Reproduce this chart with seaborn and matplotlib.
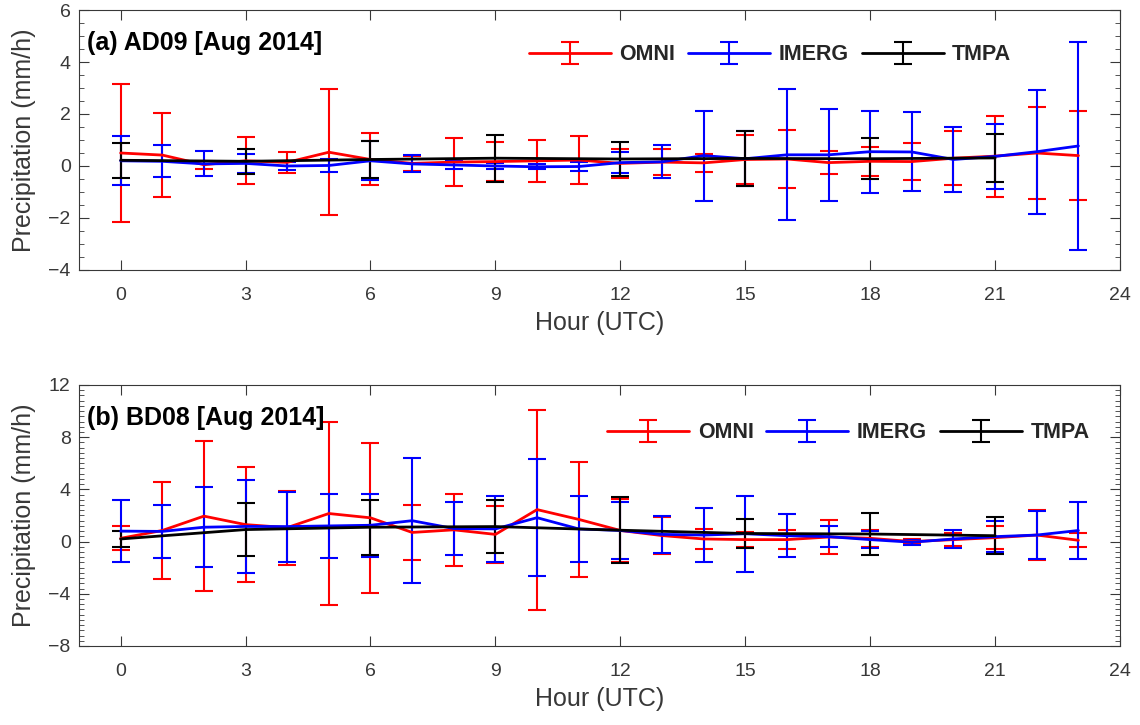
import numpy as np
import matplotlib.pyplot as plt
import seaborn as sns
from matplotlib.ticker import MultipleLocator

# Estilo
sns.set_theme(style="ticks")
plt.rcParams['font.family'] = ['Liberation Sans', 'DejaVu Sans']

# Horas
hours = np.arange(24)
hours_3h = np.arange(0, 24, 3)

# (a) AD09 - medias e desvios
omni_a = [0.5, 0.42, 0.05, 0.2, 0.14, 0.53, 0.25, 0.1, 0.15, 0.17, 0.2, 0.23,
          0.1, 0.15, 0.12, 0.25, 0.27, 0.13, 0.18, 0.17, 0.3, 0.38, 0.5, 0.4]
omni_a_err = [2.65, 1.62, 0.15, 0.9, 0.4, 2.42, 1.0, 0.3, 0.92, 0.75, 0.8, 0.94,
              0.55, 0.5, 0.35, 0.95, 1.13, 0.45, 0.55, 0.72, 1.05, 1.56, 1.78, 1.7]
imerg_a = [0.2, 0.18, 0.08, 0.1, 0.0, 0.02, 0.2, 0.08, 0.04, 0.0, -0.03, -0.02,
           0.13, 0.16, 0.4, 0.28, 0.43, 0.43, 0.55, 0.54, 0.25, 0.37, 0.55, 0.77]
imerg_a_err = [0.94, 0.62, 0.48, 0.38, 0.15, 0.25, 0.75, 0.33, 0.17, 0.1, 0.1, 0.16,
               0.4, 0.64, 1.73, 1.05, 2.52, 1.76, 1.58, 1.52, 1.26, 1.24, 2.39, 3.99]
tmpa_a = [0.22, 0.18, 0.25, 0.3, 0.27, 0.29, 0.28, 0.31]
tmpa_a_err = [0.68, 0.47, 0.7, 0.9, 0.64, 1.07, 0.78, 0.92]

# (b) BD08 - medias e desvios
omni_b = [0.25, 0.85, 1.95, 1.3, 1.07, 2.15, 1.82, 0.7, 0.9, 0.55, 2.45, 1.7,
          0.85, 0.46, 0.2, 0.15, 0.15, 0.35, 0.25, 0.0, 0.15, 0.3, 0.5, 0.1]
omni_b_err = [0.92, 3.7, 5.77, 4.4, 2.83, 7.0, 5.77, 2.13, 2.77, 2.2, 7.66, 4.4,
              2.4, 1.45, 0.75, 0.6, 0.7, 1.34, 0.65, 0.2, 0.5, 0.9, 1.9, 0.52]
imerg_b = [0.8, 0.78, 1.1, 1.16, 1.15, 1.2, 1.25, 1.6, 1.0, 0.97, 1.83, 0.97,
           0.85, 0.55, 0.5, 0.6, 0.45, 0.38, 0.15, -0.05, 0.2, 0.38, 0.5, 0.85]
imerg_b_err = [2.36, 2.03, 3.08, 3.56, 2.68, 2.45, 2.4, 4.8, 2.0, 2.55, 4.48, 2.5,
               2.2, 1.44, 2.06, 2.9, 1.65, 0.78, 0.65, 0.19, 0.7, 1.2, 1.87, 2.2]
tmpa_b = [0.2, 0.92, 1.1, 1.15, 0.87, 0.62, 0.58, 0.45]
tmpa_b_err = [0.6, 2.04, 2.1, 2.0, 2.53, 1.1, 1.63, 1.44]

labels = ["OMNI", "IMERG", "TMPA"]
cores = ["#ff0000", "#0000ff", "#000000"]
cinza = "#383838"


def desenha_painel(ax, series, titulo, ylim, ypasso, ymenor, pos_legenda):
    for (x, y, err), cor, nome in zip(series, cores, labels):
        ax.errorbar(x, y, yerr=err, color=cor, lw=2.0, elinewidth=1.5,
                    capsize=6.5, capthick=1.5, label=nome)
    ax.set_xlim(-1, 24)
    ax.set_ylim(*ylim)
    ax.set_xticks(np.arange(0, 25, 3))
    ax.set_yticks(np.arange(ylim[0], ylim[1] + 0.1, ypasso))
    ax.yaxis.set_minor_locator(MultipleLocator(ymenor))
    ax.tick_params(which='major', direction='in', top=True, right=True,
                   length=7, width=0.8, color=cinza, labelcolor=cinza,
                   labelsize=14)
    ax.tick_params(axis='x', pad=12)
    ax.tick_params(axis='y', pad=6)
    ax.tick_params(which='minor', direction='in', left=True, right=True,
                   length=3.5, width=0.6, color=cinza)
    for sp in ax.spines.values():
        sp.set_color(cinza)
        sp.set_linewidth(0.8)
    ax.set_xlabel("Hour (UTC)", fontsize=18, color=cinza, labelpad=5)
    ax.set_ylabel("Precipitation (mm/h)", fontsize=18, color=cinza, labelpad=9)
    ax.text(0.008, 0.873, titulo, transform=ax.transAxes, fontsize=18,
            fontweight='bold', va='center', ha='left', color='black')
    ax.legend(loc='center', bbox_to_anchor=pos_legenda, ncol=3, frameon=False,
              prop={'weight': 'bold', 'size': 15.5}, handlelength=3.8,
              handletextpad=0.4, columnspacing=0.6)


fig = plt.figure(figsize=(11.4, 7.25), dpi=100)
ax_a = fig.add_axes([0.0693, 0.6276, 0.9132, 0.3586])
ax_b = fig.add_axes([0.0693, 0.109, 0.9132, 0.36])

desenha_painel(ax_a,
               [(hours, omni_a, omni_a_err), (hours, imerg_a, imerg_a_err),
                (hours_3h, tmpa_a, tmpa_a_err)],
               "(a) AD09 [Aug 2014]", (-4, 6), 2, 0.5, (0.664, 0.827))
desenha_painel(ax_b,
               [(hours, omni_b, omni_b_err), (hours, imerg_b, imerg_b_err),
                (hours_3h, tmpa_b, tmpa_b_err)],
               "(b) BD08 [Aug 2014]", (-8, 12), 4, 0.4, (0.739, 0.816))

fig.savefig("out.png", dpi=100)
